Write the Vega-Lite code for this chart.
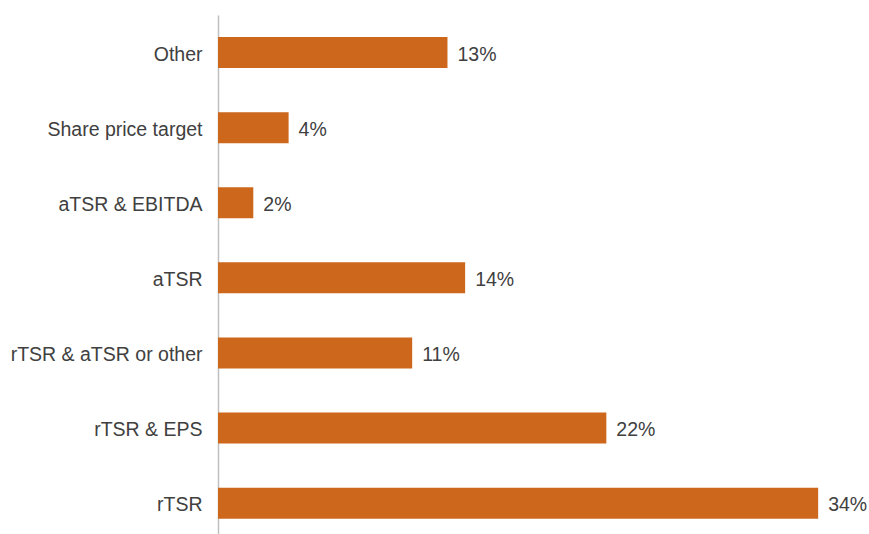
{
  "$schema": "https://vega.github.io/schema/vega-lite/v6.json",
  "autosize": "none",
  "width": 651,
  "height": 519,
  "padding": {"left": 218, "top": 15, "right": 0, "bottom": 0},
  "background": "white",
  "config": {"view": {"stroke": null}, "font": "Liberation Sans"},
  "data": {"values": [
    {"category": "Other", "value": 0.13},
    {"category": "Share price target", "value": 0.04},
    {"category": "aTSR & EBITDA", "value": 0.02},
    {"category": "aTSR", "value": 0.14},
    {"category": "rTSR & aTSR or other", "value": 0.11},
    {"category": "rTSR & EPS", "value": 0.22},
    {"category": "rTSR", "value": 0.34}
  ]},
  "encoding": {
    "y": {"field": "category", "type": "nominal", "sort": null,
      "scale": {"paddingInner": 0.587, "paddingOuter": 0.249, "align": 0.59},
      "axis": {"title": null, "ticks": false, "domainColor": "#c0c0c0", "domainWidth": 1.5,
        "labelFontSize": 19.5, "labelColor": "#404040", "labelPadding": 16, "labelLimit": 400, "labelFont": "Liberation Sans", "labelBaseline": "middle", "labelOffset": 2}},
    "x": {"field": "value", "type": "quantitative", "scale": {"domain": [0, 0.3688]}, "axis": null}
  },
  "layer": [
    {"mark": {"type": "bar", "color": "#CD671B"}},
    {"mark": {"type": "text", "align": "left", "baseline": "middle", "dx": 10, "dy": 2, "fontSize": 19.5, "color": "#404040", "font": "Liberation Sans"},
     "encoding": {"text": {"field": "value", "type": "quantitative", "format": ".0%"}}}
  ]
}
